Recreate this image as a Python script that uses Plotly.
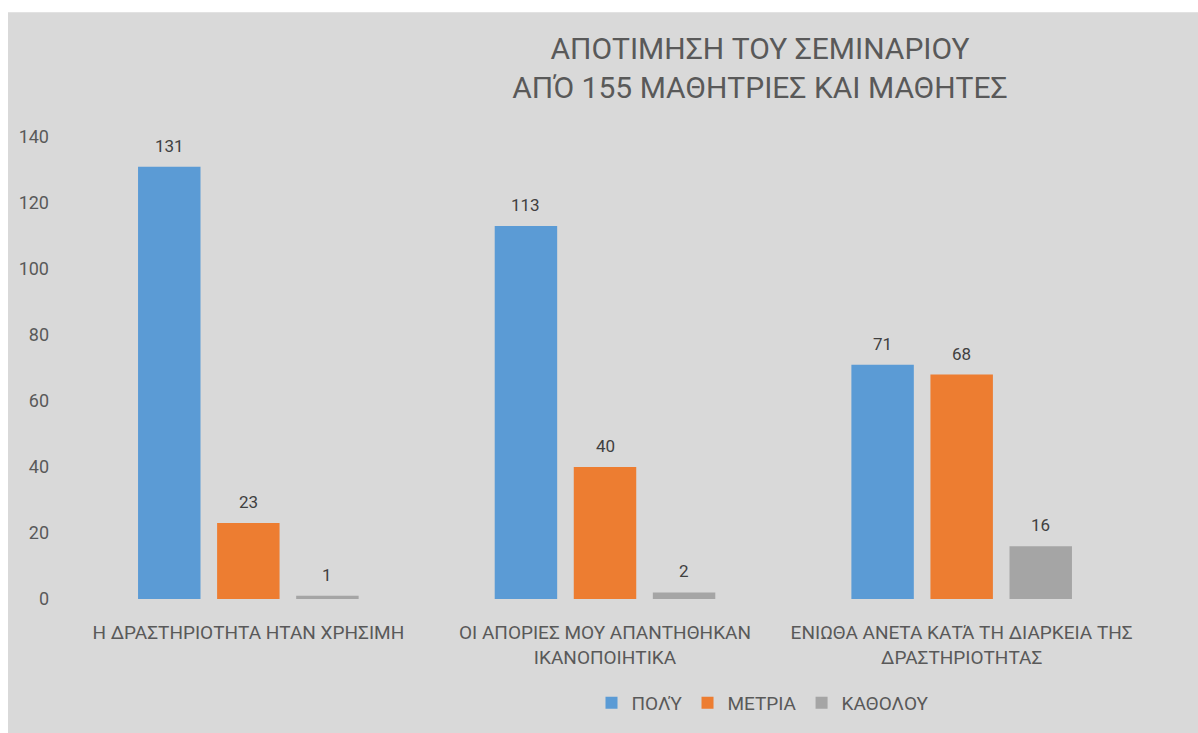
import plotly.graph_objects as go

categories = [
    "Η ΔΡΑΣΤΗΡΙΟΤΗΤΑ ΗΤΑΝ ΧΡΗΣΙΜΗ",
    "ΟΙ ΑΠΟΡΙΕΣ ΜΟΥ ΑΠΑΝΤΗΘΗΚΑΝ ΙΚΑΝΟΠΟΙΗΤΙΚΑ",
    "ΕΝΙΩΘΑ ΑΝΕΤΑ ΚΑΤΆ ΤΗ ΔΙΑΡΚΕΙΑ ΤΗΣ ΔΡΑΣΤΗΡΙΟΤΗΤΑΣ",
]
category_labels = [
    "Η ΔΡΑΣΤΗΡΙΟΤΗΤΑ ΗΤΑΝ ΧΡΗΣΙΜΗ",
    "ΟΙ ΑΠΟΡΙΕΣ ΜΟΥ ΑΠΑΝΤΗΘΗΚΑΝ<br>ΙΚΑΝΟΠΟΙΗΤΙΚΑ",
    "ΕΝΙΩΘΑ ΑΝΕΤΑ ΚΑΤΆ ΤΗ ΔΙΑΡΚΕΙΑ ΤΗΣ<br>ΔΡΑΣΤΗΡΙΟΤΗΤΑΣ",
]
series_names = ["ΠΟΛΎ", "ΜΕΤΡΙΑ", "ΚΑΘΟΛΟΥ"]
poly = [131, 113, 71]
metria = [23, 40, 68]
katholou = [1, 2, 16]
y_ticks = [0, 20, 40, 60, 80, 100, 120, 140]

colors = ["#5B9BD5", "#ED7D31", "#A5A5A5"]
TEXT = "#595959"
FONT = "Roboto, sans-serif"
BG = "#D9D9D9"

W, H = 1198, 733
ML, MR, MT, MB = 70, 58, 137, 133
pw = W - ML - MR
ph = H - MT - MB
BARGAP, GROUPGAP = 0.335, 0.21
slot_px = pw / len(categories) * (1 - BARGAP) / len(series_names)

fig = go.Figure()
for i, (name, vals, c) in enumerate(zip(series_names, [poly, metria, katholou], colors)):
    fig.add_trace(go.Bar(
        x=categories, y=vals, name=name,
        marker=dict(color=c, line=dict(width=0)),
    ))
    for cat, v in zip(categories, vals):
        fig.add_annotation(
            x=cat, y=v, text=str(v), showarrow=False,
            xshift=(i - 1) * slot_px, yshift=21, yanchor="middle",
            font=dict(size=17, color="#404040", family=FONT),
        )

fig.add_shape(
    type="rect", xref="paper", yref="paper", layer="below",
    x0=(8 - ML) / pw, x1=(W + 2 - ML) / pw,
    y0=-(H + 2 - (MT + ph)) / ph, y1=1 + (MT - 12) / ph,
    fillcolor=BG, line=dict(width=0),
)

fig.update_layout(
    width=W, height=H,
    margin=dict(l=ML, r=MR, t=MT, b=MB),
    paper_bgcolor="white", plot_bgcolor=BG,
    barmode="group", bargap=BARGAP, bargroupgap=GROUPGAP,
    font=dict(family=FONT, color=TEXT, size=18),
    title=dict(
        text="ΑΠΟΤΙΜΗΣΗ ΤΟΥ ΣΕΜΙΝΑΡΙΟΥ<br>ΑΠΌ 155 ΜΑΘΗΤΡΙΕΣ ΚΑΙ ΜΑΘΗΤΕΣ",
        x=760 / W, xanchor="center", xref="container",
        y=1 - 59 / H, yanchor="middle", yref="container",
        font=dict(size=30, color=TEXT, family=FONT),
    ),
    legend=dict(
        orientation="h", x=(763 - ML) / pw, xanchor="center",
        y=-(703 - (MT + ph)) / ph, yanchor="middle",
        bgcolor="rgba(0,0,0,0)", font=dict(size=19, color=TEXT),
        traceorder="normal", itemwidth=30,
    ),
    xaxis=dict(
        tickmode="array", tickvals=categories, ticktext=category_labels,
        showgrid=False, showline=False, zeroline=False, ticks="",
        ticklabelstandoff=20, tickfont=dict(size=19, color=TEXT),
    ),
    yaxis=dict(
        range=[0, 140], tickvals=y_ticks, showgrid=False, showline=False,
        zeroline=False, ticks="", ticklabelstandoff=20,
        tickfont=dict(size=18, color=TEXT),
    ),
)

fig.write_html(
    "out.html",
    config={"displayModeBar": False},
    post_script="document.body.style.margin='0';document.body.style.overflow='hidden';",
)
